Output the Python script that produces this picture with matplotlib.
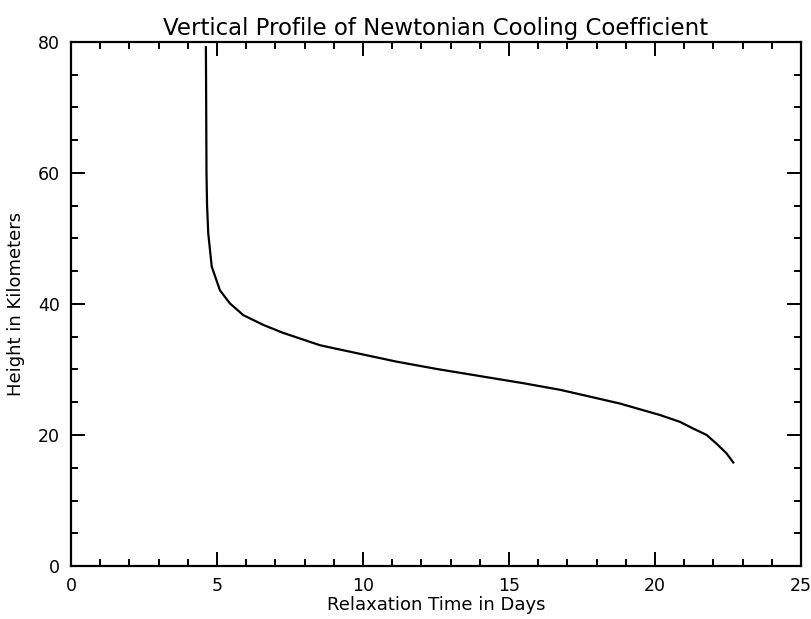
import matplotlib.pyplot as plt
from matplotlib.ticker import MultipleLocator

# relaxation time (days) vs height (km)
relax_days = [4.62, 4.63, 4.64, 4.66, 4.70, 4.82, 5.10, 5.44, 5.90, 6.59,
              7.26, 8.53, 9.78, 11.15, 12.5, 14.0, 15.5, 16.75, 17.78, 18.8,
              20.17, 20.86, 21.3, 21.77, 22.1, 22.45, 22.68]
height_km = [79.2, 70.0, 60.0, 55.0, 50.8, 45.7, 42.1, 40.1, 38.3, 36.8,
             35.6, 33.7, 32.5, 31.2, 30.1, 29.0, 27.9, 26.9, 25.85, 24.8,
             23.05, 22.0, 21.0, 20.0, 18.7, 17.2, 15.8]

TITLE = "Vertical Profile of Newtonian Cooling Coefficient"
XLABEL = "Relaxation Time in Days"
YLABEL = "Height in Kilometers"


def main():
    plt.rcParams.update({
        "font.family": ["DejaVu Sans"],
        "font.size": 12,
    })

    fig = plt.figure(figsize=(8.12, 6.19), dpi=100)
    ax = fig.add_axes([71 / 812, 1 - 566 / 619, 730 / 812, 524 / 619])

    ax.plot(relax_days, height_km, color="black", linewidth=1.6)

    ax.set_xlim(0, 25)
    ax.set_ylim(0, 80)
    ax.xaxis.set_major_locator(MultipleLocator(5))
    ax.xaxis.set_minor_locator(MultipleLocator(1))
    ax.yaxis.set_major_locator(MultipleLocator(20))
    ax.yaxis.set_minor_locator(MultipleLocator(5))
    ax.tick_params(which="both", direction="in", top=True, right=True,
                   width=1.4, labelsize=12.5)
    ax.tick_params(which="major", length=10, pad=8)
    ax.tick_params(which="minor", length=5)
    for sp in ax.spines.values():
        sp.set_linewidth(1.6)

    ax.set_title(TITLE, fontsize=16.5, pad=5)
    ax.set_xlabel(XLABEL, fontsize=13, labelpad=1)
    ax.set_ylabel(YLABEL, fontsize=13, labelpad=9)

    fig.savefig("out.png", dpi=100)


if __name__ == "__main__":
    main()
